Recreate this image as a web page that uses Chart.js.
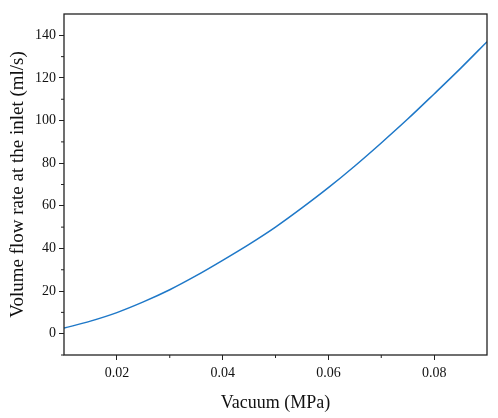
<!DOCTYPE html>
<html>
<head>
<meta charset="utf-8">
<script src="https://cdn.jsdelivr.net/npm/chart.js@4"></script>
<style>
  html, body { margin: 0; padding: 0; background: #fff; }
  #wrap { width: 498px; height: 418px; }
</style>
</head>
<body>
<div id="wrap"><canvas id="myChart"></canvas></div>
<script>
// data
const vacuum = [0.01, 0.015, 0.02, 0.025, 0.03, 0.035, 0.04, 0.045, 0.05,
                0.055, 0.06, 0.065, 0.07, 0.075, 0.08, 0.085, 0.09];
const flowRate = [2.6, 5.9, 9.9, 14.9, 20.6, 27.2, 34.4, 41.9, 50,
                  59.0, 68.5, 78.7, 89.5, 100.7, 112.5, 124.5, 137];
const xTicks = [0.02, 0.04, 0.06, 0.08];
const xMinor = [0.03, 0.05, 0.07];
const yTicks = [0, 20, 40, 60, 80, 100, 120, 140];
const yMinor = [-10, 10, 30, 50, 70, 90, 110, 130];

const points = vacuum.map((v, i) => ({ x: v, y: flowRate[i] }));

// frame + minor ticks
const framePlugin = {
  id: 'frame',
  afterDraw(chart) {
    const ctx = chart.ctx;
    const a = chart.chartArea;
    const xs = chart.scales.x, ys = chart.scales.y;
    ctx.save();
    ctx.strokeStyle = '#222';
    ctx.lineWidth = 1.3;
    ctx.strokeRect(a.left, a.top, a.right - a.left, a.bottom - a.top);
    ctx.lineWidth = 1;
    ctx.beginPath();
    xMinor.forEach(v => {
      const px = xs.getPixelForValue(v);
      ctx.moveTo(px, a.bottom);
      ctx.lineTo(px, a.bottom + 3);
    });
    yMinor.forEach(v => {
      const py = ys.getPixelForValue(v);
      ctx.moveTo(a.left, py);
      ctx.lineTo(a.left - 3, py);
    });
    ctx.stroke();
    ctx.restore();
  }
};

const config = {
  type: 'line',
  data: {
    datasets: [{
      data: points,
      borderColor: 'rgb(30,120,200)',
      borderWidth: 1.5,
      pointRadius: 0,
      cubicInterpolationMode: 'monotone',
      fill: false
    }]
  },
  options: {
    responsive: true,
    maintainAspectRatio: false,
    animation: false,
    layout: { padding: { top: 14, right: 11, left: 3, bottom: 0 } },
    plugins: { legend: { display: false }, tooltip: { enabled: false } },
    scales: {
      x: {
        type: 'linear',
        min: 0.01,
        max: 0.09,
        afterBuildTicks: s => { s.ticks = xTicks.map(v => ({ value: v })); },
        afterFit: s => { s.height = 63; },
        grid: { drawOnChartArea: false, drawTicks: true, tickLength: 5, color: '#222' },
        border: { display: false },
        ticks: {
          color: '#111',
          font: { family: 'Liberation Serif', size: 14 },
          padding: 5,
          maxRotation: 0,
          callback: v => v.toFixed(2)
        },
        title: {
          display: true,
          text: 'Vacuum (MPa)',
          color: '#111',
          font: { family: 'Liberation Serif', size: 18 },
          padding: { top: 7 }
        }
      },
      y: {
        min: -10,
        max: 150,
        afterBuildTicks: s => { s.ticks = yTicks.map(v => ({ value: v })); },
        afterFit: s => { s.width = 61; },
        grid: { drawOnChartArea: false, drawTicks: true, tickLength: 5, color: '#222' },
        border: { display: false },
        ticks: {
          color: '#111',
          font: { family: 'Liberation Serif', size: 14 },
          padding: 3
        },
        title: {
          display: true,
          text: 'Volume flow rate at the inlet (ml/s)',
          color: '#111',
          font: { family: 'Liberation Serif', size: 19 },
          padding: { bottom: 4 }
        }
      }
    }
  },
  plugins: [framePlugin]
};

var myChart = new Chart(document.getElementById('myChart'), config);
</script>
</body>
</html>
